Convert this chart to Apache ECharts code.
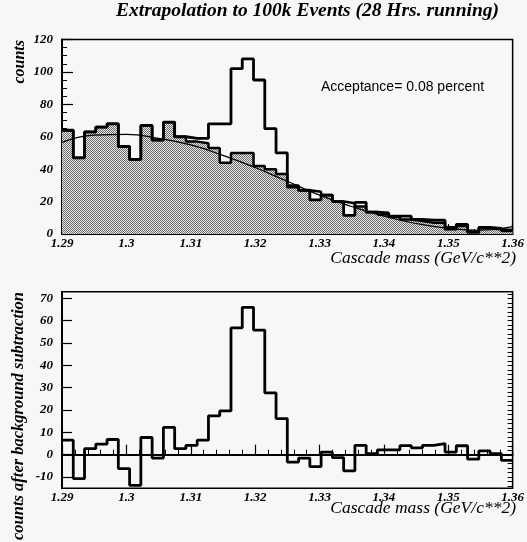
<!DOCTYPE html>
<html><head><meta charset="utf-8">
<script src="https://cdn.jsdelivr.net/npm/echarts@6/dist/echarts.min.js"></script>
<style>html,body{margin:0;padding:0;background:#f7f7f7}#c{width:527px;height:542px}</style>
</head><body><div id="c"></div>
<script>
// ---- data ----
const binLow = 1.29, binWidth = 0.00175;   // 40 bins from 1.29 to 1.36
const totalCounts = [64, 47, 63, 66, 68, 54, 46, 67, 58, 69, 60, 59, 59, 68, 68, 102, 108, 95, 65, 50,
                     29, 27, 21, 24, 20, 11.5, 19.5, 13.5, 13, 11, 11, 9, 8.5, 8.5, 4, 6, 1, 4, 3.5, 2];
const bgCounts    = [64, 47, 63, 66, 68, 54, 46, 67, 58, 69, 60, 57, 56, 53, 44, 50, 50, 42, 40, 37,
                     30, 27, 26, 24, 20, 19, 17, 13.5, 12, 10.5, 9, 8, 7, 7, 3, 5, 1.5, 3.5, 3, 2.5];
const subtracted  = [6.5, -10.7, 2.7, 4.7, 6.8, -6.2, -13.7, 7.7, -1.5, 12.2, 2.7, 4.2, 6.5, 17.4, 19.6, 56.8, 66, 55.8, 27.7, 16.2,
                     -3.3, -1.5, -5.3, 1.2, -1.3, -7.2, 4.2, 0.5, 2.2, 2.2, 4.1, 3.1, 4.2, 5.0, 1.2, 4.0, -2.0, 1.7, 0.5, -2.5];
const fitMass   = [1.290, 1.295, 1.300, 1.305, 1.310, 1.315, 1.320, 1.325, 1.330, 1.335, 1.340, 1.345, 1.350, 1.355, 1.360];
const fitCounts = [56.5, 61, 61.5, 59, 55, 48.5, 41, 32.5, 24, 17, 11, 6.5, 3.5, 2.3, 4.5];
const topYTicks = [0, 20, 40, 60, 80, 100, 120];
const bottomYTicks = [-10, 0, 10, 20, 30, 40, 50, 60, 70];
const bottomYMinor = [];
for (let v = -14; v <= 72; v += 2) bottomYMinor.push(v);

function stepData(vals) {
  const d = vals.map((v, i) => [+(binLow + i * binWidth).toFixed(5), v]);
  d.push([+(binLow + vals.length * binWidth).toFixed(5), vals[vals.length - 1]]);
  return d;
}
const shadeCounts = totalCounts.map((t, i) => Math.min(t, bgCounts[i]));

// dotted shading pattern
const pc = document.createElement('canvas'); pc.width = 2; pc.height = 2;
const g = pc.getContext('2d');
g.fillStyle = '#e9e9e9'; g.fillRect(0, 0, 2, 2);
g.fillStyle = '#6c6c6c'; g.fillRect(0, 0, 1, 1); g.fillRect(1, 1, 1, 1);

const serifLbl = { fontFamily: 'Liberation Serif', fontStyle: 'italic', fontWeight: 'bold', fontSize: 13, color: '#000' };

function xAx(gi) {
  return {
    gridIndex: gi, type: 'value', min: 1.29, max: 1.36, interval: 0.01,
    axisLine: { lineStyle: { color: '#000', width: 2 } },
    axisTick: { inside: true, length: 10, lineStyle: { color: '#000', width: 1.2 } },
    minorTick: { show: true, splitNumber: 5, length: 5, lineStyle: { color: '#000', width: 1 } },
    axisLabel: Object.assign({ margin: 3, formatter: v => String(+(+v).toFixed(2)) }, serifLbl),
    splitLine: { show: false }
  };
}

const chart = echarts.init(document.getElementById('c'), null, { renderer: 'canvas' });
chart.setOption({
  animation: false,
  backgroundColor: '#f7f7f7',
  grid: [
    { left: 62, top: 39.5, width: 454, height: 194.5, show: true, borderColor: '#000', borderWidth: 1.5, backgroundColor: 'transparent' },
    { left: 62, top: 291.7, width: 454, height: 196.5, show: true, borderColor: '#000', borderWidth: 1.5, backgroundColor: 'transparent' }
  ],
  xAxis: [xAx(0), xAx(1)],
  yAxis: [
    { gridIndex: 0, type: 'value', min: 0, max: 120, interval: 20,
      axisLine: { show: true, lineStyle: { color: '#000', width: 2 } },
      axisTick: { show: true, inside: true, length: 11, lineStyle: { color: '#000', width: 1.2 } },
      minorTick: { show: true, splitNumber: 4, length: 5, lineStyle: { color: '#000', width: 1 } },
      axisLabel: Object.assign({ margin: 9 }, serifLbl),
      splitLine: { show: false } },
    { gridIndex: 1, type: 'value', min: -15, max: 73,
      axisLine: { show: true, lineStyle: { color: '#000', width: 2 } },
      axisTick: { show: true, inside: true, length: 10, customValues: bottomYTicks, lineStyle: { color: '#000', width: 1.2 } },
      axisLabel: Object.assign({ margin: 9, customValues: bottomYTicks }, serifLbl),
      splitLine: { show: false } },
    { gridIndex: 1, type: 'value', min: -15, max: 73,
      axisLine: { show: false },
      axisTick: { show: true, inside: true, length: 5, customValues: bottomYMinor, lineStyle: { color: '#000', width: 1 } },
      axisLabel: { show: false },
      splitLine: { show: false } }
  ],
  series: [
    { type: 'line', xAxisIndex: 0, yAxisIndex: 0, step: 'end', data: stepData(shadeCounts), symbol: 'none',
      lineStyle: { width: 0 }, areaStyle: { color: { image: pc, repeat: 'repeat' }, opacity: 1 }, z: 1 },
    { type: 'line', xAxisIndex: 0, yAxisIndex: 0, step: 'end', data: stepData(bgCounts), symbol: 'none',
      lineStyle: { color: '#000', width: 2.5 }, z: 2 },
    { type: 'line', xAxisIndex: 0, yAxisIndex: 0, step: 'end', data: stepData(totalCounts), symbol: 'none',
      lineStyle: { color: '#000', width: 2.8 }, z: 3 },
    { type: 'line', xAxisIndex: 0, yAxisIndex: 0, smooth: 0.5, data: fitMass.map((m, i) => [m, fitCounts[i]]), symbol: 'none',
      lineStyle: { color: '#000', width: 1.2 }, z: 4 },
    { type: 'line', xAxisIndex: 1, yAxisIndex: 1, step: 'end', data: stepData(subtracted), symbol: 'none',
      lineStyle: { color: '#000', width: 2.8 }, z: 3,
      markLine: { silent: true, symbol: 'none', label: { show: false }, lineStyle: { color: '#000', width: 1, type: 'solid' }, data: [{ yAxis: 0 }] } }
  ],
  graphic: [
    { type: 'text', left: 116, top: 1, style: { text: 'Extrapolation to 100k Events (28 Hrs. running)', font: 'italic bold 19.5px "Liberation Serif"', fill: '#000' } },
    { type: 'text', x: 321, y: 87, style: { text: 'Acceptance= 0.08 percent', font: '14px "Liberation Sans"', fill: '#000', textVerticalAlign: 'middle' } },
    { type: 'text', x: 516, y: 258, style: { text: 'Cascade mass (GeV/c**2)', font: 'italic 17.5px "Liberation Serif"', fill: '#000', textAlign: 'right', textVerticalAlign: 'middle' } },
    { type: 'text', x: 516, y: 508, style: { text: 'Cascade mass (GeV/c**2)', font: 'italic 17.5px "Liberation Serif"', fill: '#000', textAlign: 'right', textVerticalAlign: 'middle' } },
    { type: 'text', x: 20, y: 40, rotation: Math.PI / 2, style: { text: 'counts', font: 'italic bold 16px "Liberation Serif"', fill: '#000', textAlign: 'right', textVerticalAlign: 'middle' } },
    { type: 'text', x: 19, y: 292, rotation: Math.PI / 2, style: { text: 'counts after background subtraction', font: 'italic bold 16.5px "Liberation Serif"', fill: '#000', textAlign: 'right', textVerticalAlign: 'middle' } }
  ]
});
</script></body></html>
